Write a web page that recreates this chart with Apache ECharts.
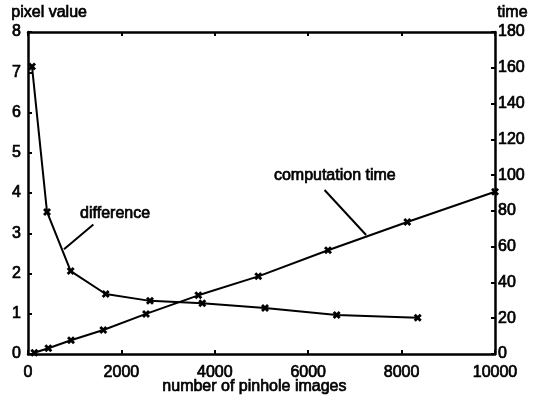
<!DOCTYPE html>
<html>
<head>
<meta charset="utf-8">
<script src="https://cdn.jsdelivr.net/npm/echarts@6/dist/echarts.min.js"></script>
<style>html,body{margin:0;padding:0;background:#fff;}#c{width:534px;height:401px;}</style>
</head>
<body>
<div id="c"></div>
<script>
// number of pinhole images / pixel value (difference)
const diffX = [86, 407, 914, 1664, 2612, 3732, 5075, 6610, 8345];
const diffY = [7.14, 3.53, 2.06, 1.49, 1.32, 1.26, 1.14, 0.97, 0.90];
// number of pinhole images / time (computation time)
const timeX = [135, 435, 921, 1612, 2527, 3647, 4931, 6424, 8122, 10000];
const timeY = [0.7, 3.2, 7.7, 13.4, 22.4, 32.8, 43.4, 58, 73.8, 90.7];
const xTicks = [0, 2000, 4000, 6000, 8000, 10000];
const leftTicks = [0, 1, 2, 3, 4, 5, 6, 7, 8];
const rightTicks = [0, 20, 40, 60, 80, 100, 120, 140, 160, 180];
// annotations (data coords)
const diffLabel = { text: 'difference', at: [1116, 3.48] };
const diffLeader = [[770, 2.6], [1400, 3.22]];
const timeLabel = { text: 'computation time', at: [6570, 99.5] };
const timeLeader = [[6350, 91.7], [7240, 66.5]];

const FONT = 'Liberation Sans, Arial, sans-serif';
const marker = 'path://M0,2.5L2.5,0L5,2.5L7.5,0L10,2.5L7.5,5L10,7.5L7.5,10L5,7.5L2.5,10L0,7.5L2.5,5Z';
const axisLine = { show: true, onZero: false, lineStyle: { color: '#000', width: 2.5 } };
const tick = { show: true, inside: true, length: 4, lineStyle: { color: '#000', width: 2 } };
const TB = 0.7;
const lbl = { color: '#000', fontSize: 16, fontFamily: FONT, textBorderColor: '#000', textBorderWidth: TB };

const chart = echarts.init(document.getElementById('c'), null, { renderer: 'canvas' });
chart.setOption({
  animation: false,
  backgroundColor: '#fff',
  grid: { left: 28, right: 39, top: 32, bottom: 47 },
  xAxis: [
    { type: 'value', position: 'bottom', min: xTicks[0], max: xTicks[xTicks.length - 1], interval: 2000,
      axisLine: axisLine, axisTick: tick, splitLine: { show: false },
      axisLabel: Object.assign({ margin: 11, formatter: v => String(v) }, lbl) },
    { type: 'value', position: 'top', min: xTicks[0], max: xTicks[xTicks.length - 1], interval: 2000,
      axisLine: axisLine, axisTick: tick, splitLine: { show: false }, axisLabel: { show: false } }
  ],
  yAxis: [
    { type: 'value', position: 'left', min: leftTicks[0], max: leftTicks[leftTicks.length - 1], interval: 1,
      axisLine: axisLine, axisTick: tick, splitLine: { show: false },
      axisLabel: Object.assign({ margin: 7 }, lbl) },
    { type: 'value', position: 'right', min: rightTicks[0], max: rightTicks[rightTicks.length - 1], interval: 20,
      axisLine: axisLine, axisTick: tick, splitLine: { show: false },
      axisLabel: Object.assign({ margin: 3 }, lbl) }
  ],
  graphic: [
    { type: 'text', left: 11, top: 4, style: { text: 'pixel value', fill: '#000', stroke: '#000', lineWidth: TB, font: '16px ' + FONT } },
    { type: 'text', left: 497, top: 4, style: { text: 'time', fill: '#000', stroke: '#000', lineWidth: TB, font: '16px ' + FONT } },
    { type: 'text', left: 162, top: 378, style: { text: 'number of pinhole images', fill: '#000', stroke: '#000', lineWidth: TB, font: '16px ' + FONT } }
  ],
  series: [
    { type: 'line', name: 'difference', xAxisIndex: 0, yAxisIndex: 0,
      data: diffX.map((x, i) => [x, diffY[i]]),
      symbol: marker, symbolSize: 8, showAllSymbol: true,
      lineStyle: { color: '#000', width: 2 }, itemStyle: { color: '#000' },
      markLine: { silent: true, symbol: 'none', label: { show: false },
        lineStyle: { color: '#000', width: 2, type: 'solid' },
        data: [[{ coord: diffLeader[0] }, { coord: diffLeader[1] }]] },
      markPoint: { symbol: 'circle', symbolSize: 0,
        label: { show: true, position: 'right', distance: 0, formatter: diffLabel.text, color: '#000', fontSize: 16, fontFamily: FONT, textBorderColor: '#000', textBorderWidth: TB },
        data: [{ coord: diffLabel.at }] } },
    { type: 'line', name: 'computation time', xAxisIndex: 0, yAxisIndex: 1,
      data: timeX.map((x, i) => [x, timeY[i]]),
      symbol: marker, symbolSize: 8, showAllSymbol: true,
      lineStyle: { color: '#000', width: 2 }, itemStyle: { color: '#000' },
      markLine: { silent: true, symbol: 'none', label: { show: false },
        lineStyle: { color: '#000', width: 2, type: 'solid' },
        data: [[{ coord: timeLeader[0] }, { coord: timeLeader[1] }]] },
      markPoint: { symbol: 'circle', symbolSize: 0,
        label: { show: true, position: 'inside', formatter: timeLabel.text, color: '#000', fontSize: 16, fontFamily: FONT, textBorderColor: '#000', textBorderWidth: TB },
        data: [{ coord: timeLabel.at }] } }
  ]
});
</script>
</body>
</html>
